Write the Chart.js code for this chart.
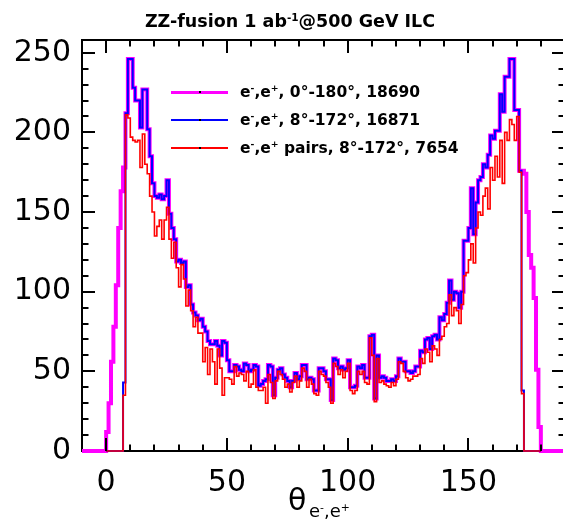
<!DOCTYPE html>
<html><head><meta charset="utf-8">
<script src="https://cdn.jsdelivr.net/npm/chart.js@4.4.1/dist/chart.umd.min.js"></script>
<style>
html,body{margin:0;padding:0;overflow:hidden;background:#fff;}
#wrap{position:relative;width:580px;height:520px;}
#c{position:absolute;left:0;top:0;}
.t{position:absolute;white-space:nowrap;font-family:"DejaVu Sans",sans-serif;color:#000;}
.t sup{font-size:0.6em;vertical-align:0.6em;line-height:0;}
#title{left:0;width:580px;text-align:center;top:11px;font-size:17.5px;font-weight:bold;line-height:20px;}
.lg{left:240px;font-size:15.5px;font-weight:bold;line-height:20px;}
.sw{position:absolute;left:171px;width:57px;}
.dot{position:absolute;left:199px;width:2px;height:2px;background:#000;}
#theta{left:288px;top:484px;font-size:30px;line-height:32px;}
#thsub{left:309px;top:501px;font-size:18px;line-height:20px;}
</style></head><body>
<div id="wrap">
<canvas id="c" width="580" height="520" style="width:580px;height:520px"></canvas>
<div class="t" id="title">ZZ-fusion 1 ab<sup>-1</sup>@500 GeV ILC</div>
<div class="sw" style="top:90.5px;height:3px;background:#ff00ff"></div>
<div class="sw" style="top:119px;height:2px;background:#0000ff"></div>
<div class="sw" style="top:147px;height:2px;background:#ff0000"></div>
<div class="dot" style="top:91px"></div>
<div class="dot" style="top:119px"></div>
<div class="dot" style="top:147px"></div>
<div class="t lg" style="top:82px">e<sup>-</sup>,e<sup>+</sup>, 0°-180°, 18690</div>
<div class="t lg" style="top:110px">e<sup>-</sup>,e<sup>+</sup>, 8°-172°, 16871</div>
<div class="t lg" style="top:138px">e<sup>-</sup>,e<sup>+</sup> pairs, 8°-172°, 7654</div>
<div class="t" id="theta">θ</div>
<div class="t" id="thsub">e<sup>-</sup>,e<sup>+</sup></div>
</div>
<script>
// ---------- data (1 degree bins, index = lower bin edge in degrees) ----------
const binWidth = 1;
const nBins = 180;
const xRange = [-10, 190];
const yMax = 258;
const xTickValues = [0, 50, 100, 150];
const yTickValues = [0, 50, 100, 150, 200, 250];

const seriesLabels = [
  "e-,e+, 0°-180°, 18690",
  "e-,e+, 8°-172°, 16871",
  "e-,e+ pairs, 8°-172°, 7654"
];

// e-,e+ over 0-180 degrees (magenta)
const allAngles = [
  12,30,56,78,104,140,163,178,212,246,
  246,228,220,220,203,227,227,202,185,168,
  160,159,161,158,160,170,149,140,133,119,
  120,118,119,103,104,92,87,85,82,83,
  78,75,69,67,67,69,66,60,69,68,
  57,50,50,54,53,51,50,55,54,50,
  51,54,53,41,42,44,45,54,53,35,
  46,51,52,48,46,44,40,44,49,45,
  47,54,54,45,46,45,38,38,52,52,
  50,45,45,32,58,57,52,53,51,52,
  57,40,40,41,53,52,54,46,46,72,
  73,33,60,46,47,46,44,44,45,44,
  47,58,56,56,50,50,49,50,53,53,
  63,62,70,71,64,72,73,70,84,82,
  86,93,107,95,100,99,90,100,132,132,
  140,165,136,156,170,172,180,178,186,198,
  196,201,201,224,213,235,235,246,246,214,
  214,176,176,174,150,123,115,96,51,15
];

// e-,e+ within 8-172 degrees (blue)
const cutAngles = [
  0,0,0,0,0,0,0,43,212,246,
  246,228,220,220,203,227,227,202,185,168,
  160,159,161,158,160,170,149,140,133,119,
  120,118,119,103,104,92,87,85,82,83,
  78,75,69,67,67,69,66,60,69,68,
  57,50,50,54,53,51,50,55,54,50,
  51,54,53,41,42,44,45,54,53,35,
  46,51,52,48,46,44,40,44,49,45,
  47,54,54,45,46,45,38,38,52,52,
  50,45,45,32,58,57,52,53,51,52,
  57,40,40,41,53,52,54,46,46,72,
  73,33,60,46,47,46,44,44,45,44,
  47,58,56,56,50,50,49,50,53,53,
  63,62,70,71,64,72,73,70,84,82,
  86,93,107,95,100,99,90,100,132,132,
  140,165,136,156,170,172,180,178,186,198,
  196,201,201,224,213,235,235,246,246,214,
  214,176,38,0,0,0,0,0,0,0
];

// e-,e+ pairs within 8-172 degrees (red)
const pairsCut = [
  0,0,0,0,0,0,0,35,211,209,
  197,195,194,195,178,199,180,174,160,150,
  135,141,145,133,145,153,133,121,131,115,
  103,117,108,91,101,88,78,84,74,74,
  56,65,48,64,56,42,64,52,35,46,
  46,45,42,53,47,49,48,44,50,40,
  42,51,40,38,38,40,30,48,43,33,
  44,50,48,45,40,42,37,43,47,40,
  44,52,50,40,45,42,36,35,50,48,
  47,43,40,30,55,53,48,51,46,50,
  55,38,36,38,50,48,50,43,42,71,
  60,31,58,43,44,42,41,40,43,41,
  45,56,55,50,46,44,45,47,47,48,
  58,55,64,62,56,66,64,60,70,72,
  78,80,98,85,90,88,80,92,110,112,
  120,130,118,140,150,148,160,165,152,178,
  170,185,172,195,168,200,195,208,205,195,
  210,175,36,0,0,0,0,0,0,0
];

// ---------- histogram outline points ----------
function histPoints(values, from, to) {
  const pts = [];
  if (from !== undefined) pts.push({x: from, y: 0});
  pts.push({x: 0, y: 0});
  values.forEach((v, i) => pts.push({x: i * binWidth, y: v}));
  pts.push({x: nBins * binWidth, y: 0});
  if (to !== undefined) pts.push({x: to, y: 0});
  return pts;
}

const majorLen = 13, minorLen = 6.5, xMinorStep = 10, xMajorStep = 50, yMinorStep = 10, yMajorStep = 50;

const rootAxes = {
  id: 'rootAxes',
  beforeDatasetsDraw(chart) {
    const {ctx, chartArea: a} = chart;
    ctx.save();
    ctx.strokeStyle = '#000'; ctx.lineWidth = 2;
    ctx.strokeRect(a.left, a.top, a.right - a.left, a.bottom - a.top);
    ctx.restore();
  },
  afterDatasetsDraw(chart) {
    const {ctx, chartArea: a, scales} = chart;
    const x = scales.x, y = scales.y;
    ctx.save();
    ctx.strokeStyle = '#000'; ctx.lineWidth = 2;
    ctx.beginPath();
    for (let v = xRange[0] + xMinorStep; v < xRange[1]; v += xMinorStep) {
      const px = Math.round(x.getPixelForValue(v));
      const len = (v % xMajorStep === 0) ? majorLen : minorLen;
      ctx.moveTo(px, a.bottom); ctx.lineTo(px, a.bottom - len);
      ctx.moveTo(px, a.top); ctx.lineTo(px, a.top + len);
    }
    for (let v = yMinorStep; v <= yMax; v += yMinorStep) {
      const py = Math.round(y.getPixelForValue(v));
      const len = (v % yMajorStep === 0) ? majorLen : minorLen;
      ctx.moveTo(a.left, py); ctx.lineTo(a.left + len, py);
      ctx.moveTo(a.right, py); ctx.lineTo(a.right - len, py);
    }
    ctx.stroke();
    ctx.restore();
  }
};

const tickFont = {family: 'DejaVu Sans', size: 30};

new Chart(document.getElementById('c'), {
  type: 'line',
  data: {
    datasets: [
      {label: seriesLabels[2], data: histPoints(pairsCut), borderColor: '#ff0000', borderWidth: 1.6, order: 1},
      {label: seriesLabels[1], data: histPoints(cutAngles), borderColor: '#0000ff', borderWidth: 2, order: 2},
      {label: seriesLabels[0], data: histPoints(allAngles, xRange[0], xRange[1]), borderColor: '#ff00ff', borderWidth: 4, order: 3}
    ].map(d => Object.assign(d, {stepped: true, pointRadius: 0, fill: false, tension: 0, clip: 6, borderJoinStyle: 'miter'}))
  },
  options: {
    responsive: false,
    animation: false,
    devicePixelRatio: 1,
    layout: {padding: {top: 40, right: 15, left: 0, bottom: 0}},
    plugins: {legend: {display: false}, tooltip: {enabled: false}, title: {display: false}},
    scales: {
      x: {
        type: 'linear', min: xRange[0], max: xRange[1],
        grid: {display: false, drawTicks: false, tickLength: 0},
        border: {display: false},
        ticks: {font: tickFont, color: '#000', padding: 14, maxRotation: 0, autoSkip: false},
        afterBuildTicks: s => { s.ticks = xTickValues.map(v => ({value: v})); },
        afterFit: s => { s.height = 69; }
      },
      y: {
        type: 'linear', min: 0, max: yMax,
        grid: {display: false, drawTicks: false, tickLength: 0},
        border: {display: false},
        ticks: {font: tickFont, color: '#000', padding: 11},
        afterBuildTicks: s => { s.ticks = yTickValues.map(v => ({value: v})); },
        afterFit: s => { s.width = 82; }
      }
    }
  },
  plugins: [rootAxes]
});
</script>
</body></html>
